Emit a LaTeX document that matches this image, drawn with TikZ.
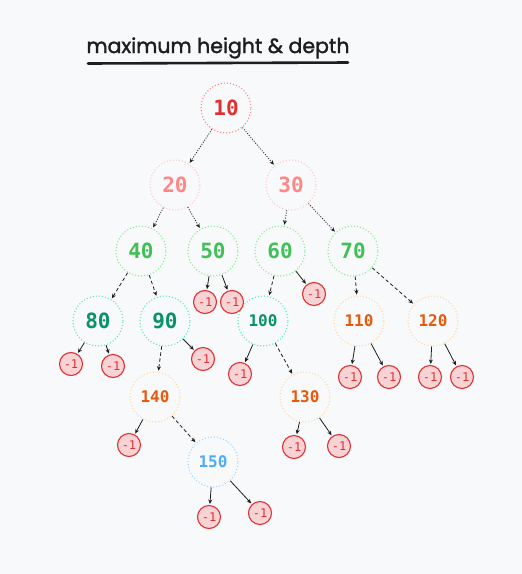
\documentclass[tikz,border=0pt]{standalone}
\usepackage{fontspec}
\setmainfont{Poppins}[FakeBold=1.6]
\setmonofont{DejaVu Sans Mono}
\usetikzlibrary{positioning,arrows.meta}

\definecolor{bg}{HTML}{F8F9FA}
\definecolor{ink}{HTML}{1E1E1E}
\definecolor{redtx}{HTML}{E03131}
\definecolor{redln}{HTML}{FF8787}
\definecolor{pinktx}{HTML}{FF8787}
\definecolor{pinkln}{HTML}{FFC9C9}
\definecolor{greentx}{HTML}{40C057}
\definecolor{greenln}{HTML}{8CE99A}
\definecolor{tealtx}{HTML}{099268}
\definecolor{tealln}{HTML}{63E6BE}
\definecolor{orangetx}{HTML}{E8590C}
\definecolor{orangeln}{HTML}{FFD8A8}
\definecolor{bluetx}{HTML}{4DABF7}
\definecolor{blueln}{HTML}{A5D8FF}
\definecolor{nilfill}{HTML}{F8D3D6}

\begin{document}
\begin{tikzpicture}[->,>={Stealth[length=4.5pt,width=4pt]},on grid,shorten >=1pt]
\tikzstyle{nd}=[circle,minimum size=50pt,inner sep=0pt,line width=1.1pt,dash pattern=on 1.1pt off 2pt,font=\ttfamily\bfseries\fontsize{21}{21}\selectfont]
\tikzstyle{sm}=[nd,font=\ttfamily\bfseries\fontsize{16}{16}\selectfont]
\tikzstyle{rd}=[nd,draw=redln,text=redtx]
\tikzstyle{pk}=[nd,draw=pinkln,text=pinktx]
\tikzstyle{gr}=[nd,draw=greenln,text=greentx]
\tikzstyle{tl}=[nd,draw=tealln,text=tealtx]
\tikzstyle{tls}=[sm,draw=tealln,text=tealtx]
\tikzstyle{og}=[sm,draw=orangeln,text=orangetx]
\tikzstyle{bl}=[sm,draw=blueln,text=bluetx]
\tikzstyle{nil}=[circle,minimum size=23pt,inner sep=0pt,draw=redtx,fill=nilfill,text=redtx,line width=1.1pt,font=\ttfamily\fontsize{12}{12}\selectfont]
\tikzstyle{dt}=[ink,line width=0.8pt,dash pattern=on 1pt off 1.5pt]
\tikzstyle{ds}=[ink,line width=0.8pt,dash pattern=on 3.5pt off 2.5pt]
\tikzstyle{sl}=[ink,line width=0.8pt]

\fill[bg,-] (0,0) rectangle (522pt,-574pt);

% title
\node[text=ink,font=\fontsize{20.5}{24}\selectfont] (title) at (218pt,-48pt) {maximum height \& depth};
\draw[-,ink,line width=2.6pt,line cap=round] (88pt,-63.5pt) -- (349pt,-62.5pt);

% tree
\path (226pt,-108pt) coordinate (root);
\node[rd]  (n10) at (root)                          {10};
\node[pk]  (n20)  [below left=77pt and 51pt of n10]  {20};
\node[pk]  (n30)  [below right=77pt and 65pt of n10] {30};
\node[gr]  (n40)  [below left=66pt and 34pt of n20]  {40};
\node[gr]  (n50)  [below right=66pt and 38pt of n20] {50};
\node[gr]  (n60)  [below left=66pt and 11pt of n30]  {60};
\node[gr]  (n70)  [below right=66pt and 62pt of n30] {70};
\node[tl]  (n80)  [below left=70pt and 43pt of n40]  {80};
\node[tl]  (n90)  [below right=70pt and 24pt of n40] {90};
\node[tls] (n100) [below left=70pt and 17pt of n60]  {100};
\node[og]  (n110) [below right=70pt and 6pt of n70]  {110};
\node[og]  (n120) [below right=70pt and 80pt of n70] {120};
\node[og]  (n140) [below left=76pt and 10pt of n90]  {140};
\node[og]  (n130) [below right=76pt and 42pt of n100] {130};
\node[bl]  (n150) [below right=65pt and 58pt of n140] {150};

% empty children
\node[nil] (e50a)  [below left=51pt and 8pt of n50]    {-1};
\node[nil] (e50b)  [below right=51pt and 19pt of n50]  {-1};
\node[nil] (e60)   [below right=43pt and 34pt of n60]  {-1};
\node[nil] (e80a)  [below left=43pt and 27pt of n80]   {-1};
\node[nil] (e80b)  [below right=45pt and 15pt of n80]  {-1};
\node[nil] (e90)   [below right=38pt and 38pt of n90]  {-1};
\node[nil] (e100)  [below left=53pt and 23pt of n100]  {-1};
\node[nil] (e110a) [below left=56pt and 9pt of n110]   {-1};
\node[nil] (e110b) [below right=56pt and 30pt of n110] {-1};
\node[nil] (e120a) [below left=56pt and 3pt of n120]   {-1};
\node[nil] (e120b) [below right=56pt and 29pt of n120] {-1};
\node[nil] (e140)  [below left=48pt and 26pt of n140]  {-1};
\node[nil] (e130a) [below left=50pt and 11pt of n130]  {-1};
\node[nil] (e130b) [below right=49pt and 34pt of n130] {-1};
\node[nil] (e150a) [below left=55pt and 4pt of n150]   {-1};
\node[nil] (e150b) [below right=51pt and 47pt of n150] {-1};

\path
(n10)  edge [dt] (n20)
       edge [dt] (n30)
(n20)  edge [dt] (n40)
       edge [dt] (n50)
(n30)  edge [dt] (n60)
       edge [dt] (n70)
(n40)  edge [ds] (n80)
       edge [ds] (n90)
(n50)  edge [sl] (e50a)
       edge [sl] (e50b)
(n60)  edge [ds] (n100)
       edge [sl] (e60)
(n70)  edge [ds] (n110)
       edge [ds] (n120)
(n80)  edge [sl] (e80a)
       edge [sl] (e80b)
(n90)  edge [ds] (n140)
       edge [sl] (e90)
(n100) edge [sl] (e100)
       edge [ds] (n130)
(n110) edge [sl] (e110a)
       edge [sl] (e110b)
(n120) edge [sl] (e120a)
       edge [sl] (e120b)
(n140) edge [sl] (e140)
       edge [ds] (n150)
(n130) edge [sl] (e130a)
       edge [sl] (e130b)
(n150) edge [sl] (e150a)
       edge [sl] (e150b);
\end{tikzpicture}
\end{document}
